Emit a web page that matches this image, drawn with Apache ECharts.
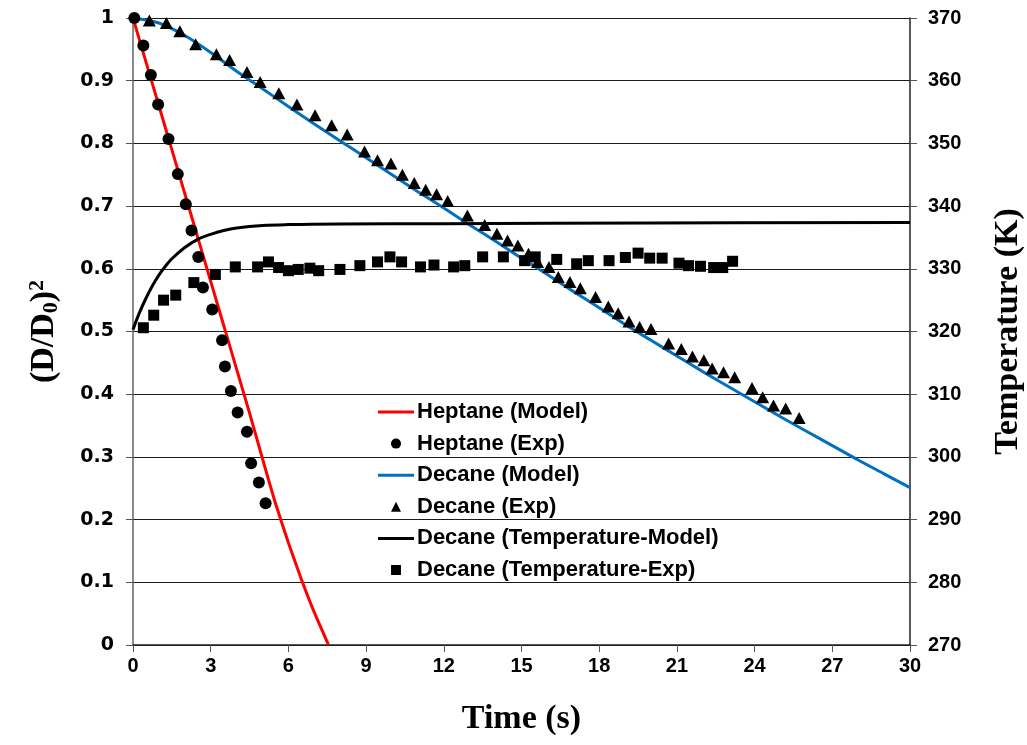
<!DOCTYPE html>
<html>
<head>
<meta charset="utf-8">
<script src="https://cdn.jsdelivr.net/npm/echarts@6/dist/echarts.min.js"></script>
<style>html,body{margin:0;padding:0;background:#fff}#c{width:1027px;height:745px}</style>
</head>
<body>
<div id="c"></div>
<script>
// ---- data (time in s, (D/D0)^2, temperature in K) ----
var heptaneModel = [[0,1],[0.5,0.93],[1,0.86],[1.5,0.79],[2,0.72],[2.5,0.65],[3,0.58],[3.5,0.51],[4,0.44],[4.5,0.37],[5,0.297],[5.5,0.226],[6,0.163],[6.5,0.105],[7,0.052],[7.55,0]];
var heptaneExp = [[0.05,1.0],[0.4,0.956],[0.69,0.909],[0.97,0.862],[1.37,0.807],[1.73,0.751],[2.04,0.703],[2.26,0.661],[2.52,0.619],[2.7,0.57],[3.06,0.535],[3.44,0.486],[3.55,0.444],[3.78,0.405],[4.04,0.371],[4.4,0.34],[4.56,0.29],[4.86,0.259],[5.12,0.226]];
var decaneModel = [[0,1.0],[1,0.992],[2,0.972],[3,0.945],[4,0.915],[5,0.887],[6,0.859],[7,0.831],[8,0.804],[9,0.777],[10,0.750],[11,0.723],[12,0.697],[13,0.670],[14,0.644],[15,0.617],[16,0.591],[17,0.564],[18,0.538],[19,0.511],[20,0.486],[21,0.461],[22,0.436],[23,0.412],[24,0.388],[25,0.364],[26,0.341],[27,0.318],[28,0.295],[29,0.273],[30,0.251]];
var decaneExp = [[0.63,0.996],[1.29,0.992],[1.81,0.979],[2.42,0.958],[3.22,0.942],[3.73,0.933],[4.4,0.914],[4.91,0.898],[5.63,0.88],[6.33,0.862],[7.03,0.845],[7.67,0.829],[8.27,0.814],[8.94,0.787],[9.44,0.773],[9.96,0.768],[10.4,0.75],[10.86,0.737],[11.3,0.726],[11.72,0.719],[12.15,0.708],[12.91,0.685],[13.58,0.670],[14.05,0.656],[14.46,0.645],[14.86,0.637],[15.27,0.624],[15.62,0.611],[16.06,0.603],[16.42,0.587],[16.87,0.579],[17.27,0.569],[17.86,0.555],[18.35,0.54],[18.73,0.529],[19.15,0.516],[19.56,0.507],[20.0,0.504],[20.68,0.481],[21.17,0.472],[21.6,0.46],[22.04,0.454],[22.36,0.441],[22.8,0.435],[23.23,0.427],[23.9,0.41],[24.31,0.395],[24.73,0.382],[25.2,0.377],[25.72,0.362]];
var tempModel = [[0,320.3],[0.25,323.0],[0.5,325.3],[0.75,327.3],[1,329.0],[1.25,330.4],[1.5,331.6],[2,333.4],[2.5,334.7],[3,335.5],[3.5,336.1],[4,336.5],[5,336.9],[6,337.05],[8,337.15],[12,337.2],[20,337.3],[30,337.4]];
var tempExp = [[0.4,320.6],[0.8,322.6],[1.18,325.0],[1.65,325.8],[2.35,327.8],[3.18,329.1],[3.95,330.3],[4.81,330.3],[5.23,331.1],[5.62,330.2],[6.0,329.7],[6.38,329.9],[6.83,330.1],[7.17,329.7],[7.99,329.9],[8.76,330.5],[9.44,331.1],[9.92,331.9],[10.37,331.1],[11.1,330.3],[11.62,330.6],[12.38,330.3],[12.81,330.5],[13.5,331.9],[14.3,331.9],[15.12,331.3],[15.53,331.9],[16.36,331.5],[17.13,330.8],[17.58,331.3],[18.38,331.3],[19.01,331.8],[19.5,332.5],[19.95,331.7],[20.43,331.7],[21.08,330.9],[21.45,330.5],[21.91,330.4],[22.42,330.2],[22.77,330.2],[23.15,331.2]];
var seriesNames = ['Heptane (Model)','Heptane (Exp)','Decane (Model)','Decane (Exp)','Decane (Temperature-Model)','Decane (Temperature-Exp)'];

var chart = echarts.init(document.getElementById('c'), null, {renderer:'canvas'});
var tickFont = {fontFamily:'Liberation Sans, sans-serif', fontWeight:'bold', fontSize:20, color:'#000'};
var serif = 'Liberation Serif, serif';
var lineIcon = 'path://M0,0H36V3H0Z';
var option = {
  animation:false,
  backgroundColor:'#fff',
  grid:{left:133, right:117, top:18, bottom:100, containLabel:false, outerBoundsMode:'none'},
  legend:{
    orient:'vertical', left:378, top:401, padding:0, itemWidth:36, itemHeight:10, itemGap:9.6,
    symbolKeepAspect:true,
    textStyle:{fontFamily:'Liberation Sans, sans-serif', fontWeight:'bold', fontSize:22, color:'#000', padding:[0,0,0,-2]},
    data:[
      {name:seriesNames[0], icon:lineIcon},
      {name:seriesNames[1], icon:'path://M0,5A5,5,0,1,1,10,5A5,5,0,1,1,0,5Z'},
      {name:seriesNames[2], icon:lineIcon},
      {name:seriesNames[3], icon:'path://M5,0L10,10L0,10Z'},
      {name:seriesNames[4], icon:lineIcon},
      {name:seriesNames[5], icon:'path://M0,0H10V10H0Z'}
    ]
  },
  xAxis:{
    type:'value', min:0, max:30, interval:3,
    name:'Time (s)', nameLocation:'middle', nameGap:57,
    nameTextStyle:{fontFamily:serif, fontWeight:'bold', fontSize:34, color:'#000'},
    axisLine:{onZero:false, lineStyle:{color:'#222', width:1.5}},
    axisTick:{show:true, length:7, lineStyle:{color:'#555'}},
    axisLabel:Object.assign({margin:11}, tickFont),
    splitLine:{show:false}
  },
  yAxis:[{
    type:'value', min:0, max:1, interval:0.1, position:'left',
    name:'(D/D{sub|0}){sup|2}', nameLocation:'middle', nameGap:71, nameRotate:90,
    nameTextStyle:{fontFamily:serif, fontWeight:'bold', fontSize:34, color:'#000', lineHeight:36,
      rich:{sub:{fontFamily:serif, fontWeight:'bold', fontSize:22, lineHeight:22, verticalAlign:'bottom', padding:[12,0,0,0]},
            sup:{fontFamily:serif, fontWeight:'bold', fontSize:22, lineHeight:22, verticalAlign:'top', padding:[0,0,10,0]}}},
    axisLine:{show:true, lineStyle:{color:'#666', width:1.5}},
    axisTick:{show:true, length:7, lineStyle:{color:'#555'}},
    axisLabel:{margin:19, fontFamily:'DejaVu Sans, sans-serif', fontWeight:'bold', fontSize:19, color:'#000'},
    splitLine:{show:true, lineStyle:{color:'#1a1a1a', width:1.2}}
  },{
    type:'value', min:270, max:370, interval:10, position:'right',
    name:'Temperature (K)', nameLocation:'middle', nameGap:81, nameRotate:90,
    nameTextStyle:{fontFamily:serif, fontWeight:'bold', fontSize:34, color:'#000'},
    axisLine:{show:true, lineStyle:{color:'#222', width:1.5}},
    axisTick:{show:true, length:7, lineStyle:{color:'#555'}},
    axisLabel:Object.assign({margin:18}, tickFont),
    splitLine:{show:false}
  }],
  series:[
    {name:seriesNames[0], type:'line', data:heptaneModel, symbol:'none', smooth:0.15, lineStyle:{color:'#ff0000', width:3}, itemStyle:{color:'#ff0000'}, z:3},
    {name:seriesNames[1], type:'scatter', data:heptaneExp, symbol:'circle', symbolSize:12, itemStyle:{color:'#000', opacity:1}, z:4},
    {name:seriesNames[2], type:'line', data:decaneModel, symbol:'none', smooth:0.3, lineStyle:{color:'#0070c0', width:3}, itemStyle:{color:'#0070c0'}, z:3},
    {name:seriesNames[3], type:'scatter', data:decaneExp, symbol:'triangle', symbolSize:[13,12], itemStyle:{color:'#000', opacity:1}, z:4},
    {name:seriesNames[4], type:'line', yAxisIndex:1, data:tempModel, symbol:'none', smooth:0.4, lineStyle:{color:'#000', width:3}, itemStyle:{color:'#000'}, z:3},
    {name:seriesNames[5], type:'scatter', yAxisIndex:1, data:tempExp, symbol:'rect', symbolSize:11, itemStyle:{color:'#000', opacity:1}, z:4}
  ]
};
chart.setOption(option);
</script>
</body>
</html>
